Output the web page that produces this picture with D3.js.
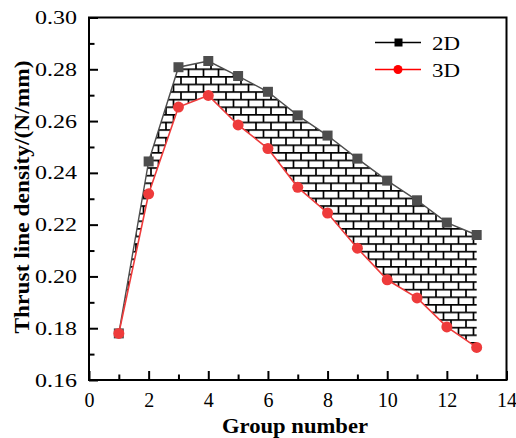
<!DOCTYPE html>
<html>
<head>
<meta charset="utf-8">
<script src="https://cdn.jsdelivr.net/npm/d3@7"></script>
<style>
  body { margin: 0; background: #fff; }
</style>
</head>
<body>
<svg id="chart" width="516" height="438" font-family="'Liberation Serif', 'Times New Roman', Times, serif"></svg>
<script>
const groups = [1, 2, 3, 4, 5, 6, 7, 8, 9, 10, 11, 12, 13]
const density2D = [0.178, 0.2444, 0.2808, 0.2832, 0.2774, 0.2713, 0.2622, 0.2544, 0.2455, 0.2370, 0.2294, 0.2208, 0.2160]
const density3D = [0.178, 0.2319, 0.2654, 0.2699, 0.2585, 0.2494, 0.2344, 0.2245, 0.2109, 0.1987, 0.1917, 0.1805, 0.1726]
const xTicks = [0, 2, 4, 6, 8, 10, 12, 14]
const xMinor = [1, 3, 5, 7, 9, 11, 13]
const yTicks = [0.16, 0.18, 0.20, 0.22, 0.24, 0.26, 0.28, 0.30]
const yMinor = [0.17, 0.19, 0.21, 0.23, 0.25, 0.27, 0.29]

const serif = "'Liberation Serif', 'Times New Roman', Times, serif"
const margin = { top: 17.5, right: 9.5, bottom: 58, left: 89 }
const width = 516
const height = 438

const svg = d3.select('#chart')

const x = d3.scaleLinear().domain([0, 14]).range([margin.left, width - margin.right])
const y = d3.scaleLinear().domain([0.16, 0.30]).range([height - margin.bottom, margin.top])

// the original picture is a bit wider than tall, so text gets stretched to fit
const stretchTo = (sel, len) => sel.each(function () {
  d3.select(this).attr('textLength', len).attr('lengthAdjust', 'spacingAndGlyphs')
})

// brick hatch pattern
const bw = 15, bh = 7.6
const pat = svg.append('defs').append('pattern')
  .attr('id', 'brick')
  .attr('patternUnits', 'userSpaceOnUse')
  .attr('width', bw)
  .attr('height', bh * 2)
pat.append('rect').attr('width', bw).attr('height', bh * 2).attr('fill', '#fff')
pat.append('path')
  .attr('d', `M0,0.8H${bw}M0,${bh + 0.8}H${bw}M1,0.8V${bh + 0.8}M${bw / 2 + 1},${bh + 0.8}V${bh * 2 + 0.8}`)
  .attr('stroke', '#000')
  .attr('stroke-width', 1.7)
  .attr('fill', 'none')

const pts2 = groups.map((g, i) => [g, density2D[i]])
const pts3 = groups.map((g, i) => [g, density3D[i]])

const area = d3.area()
  .x(d => x(d[0]))
  .y0(d => y(d[2]))
  .y1(d => y(d[1]))
svg.append('path')
  .datum(groups.map((g, i) => [g, density2D[i], density3D[i]]))
  .attr('d', area)
  .attr('fill', 'url(#brick)')

const line = d3.line().x(d => x(d[0])).y(d => y(d[1]))

svg.append('path').datum(pts2).attr('d', line)
  .attr('fill', 'none').attr('stroke', '#4d4d4d').attr('stroke-width', 1.4)
svg.append('path').datum(pts3).attr('d', line)
  .attr('fill', 'none').attr('stroke', '#ee3b3b').attr('stroke-width', 1.6)

svg.append('g').selectAll('rect').data(pts2).enter().append('rect')
  .attr('x', d => x(d[0]) - 5)
  .attr('y', d => y(d[1]) - 5)
  .attr('width', 10)
  .attr('height', 10)
  .attr('fill', '#4d4d4d')

svg.append('g').selectAll('circle').data(pts3).enter().append('circle')
  .attr('cx', d => x(d[0]))
  .attr('cy', d => y(d[1]))
  .attr('r', 5.5)
  .attr('fill', '#ee3b3b')

// axes
const xAxis = svg.append('g')
  .attr('transform', `translate(0,${height - margin.bottom})`)
  .call(d3.axisBottom(x).tickValues(xTicks).tickSize(-9).tickPadding(12.5).tickSizeOuter(0))
svg.append('g')
  .attr('transform', `translate(0,${height - margin.bottom})`)
  .call(d3.axisBottom(x).tickValues(xMinor).tickSize(-5.5).tickFormat('').tickSizeOuter(0))

const yAxis = svg.append('g')
  .attr('transform', `translate(${margin.left},0)`)
  .call(d3.axisLeft(y).tickValues(yTicks).tickSize(-9).tickPadding(12).tickFormat(d3.format('.2f')).tickSizeOuter(0))
svg.append('g')
  .attr('transform', `translate(${margin.left},0)`)
  .call(d3.axisLeft(y).tickValues(yMinor).tickSize(-5.5).tickFormat('').tickSizeOuter(0))

svg.selectAll('.domain').remove()
svg.selectAll('g').attr('font-family', serif)
svg.selectAll('.tick line').attr('stroke', '#000').attr('stroke-width', 2)
svg.selectAll('.tick text')
  .attr('fill', '#000')
  .attr('font-size', 20)
yAxis.selectAll('.tick text').attr('font-size', 19).call(stretchTo, 42)

svg.append('rect')
  .attr('x', margin.left)
  .attr('y', margin.top)
  .attr('width', width - margin.right - margin.left)
  .attr('height', height - margin.bottom - margin.top)
  .attr('fill', 'none')
  .attr('stroke', '#000')
  .attr('stroke-width', 2)

// titles
svg.append('text')
  .attr('x', 295)
  .attr('y', 433)
  .attr('text-anchor', 'middle')
  .attr('font-family', serif)
  .attr('font-size', 20)
  .attr('font-weight', 'bold')
  .text('Group number')
  .call(stretchTo, 146)

svg.append('text')
  .attr('transform', 'translate(29,197) rotate(-90)')
  .attr('text-anchor', 'middle')
  .attr('font-family', serif)
  .attr('font-size', 20)
  .attr('font-weight', 'bold')
  .text('Thrust line density/(N/mm)')
  .call(stretchTo, 273)

// legend
const legend = [
  { label: '2D', color: '#000', shape: 'square' },
  { label: '3D', color: '#ff0000', shape: 'circle' }
]
legend.forEach((l, i) => {
  const ly = 42.5 + i * 27
  const g = svg.append('g')
  g.append('line')
    .attr('x1', 375).attr('x2', 421)
    .attr('y1', ly).attr('y2', ly)
    .attr('stroke', l.color).attr('stroke-width', 1.5)
  if (l.shape === 'square') {
    g.append('rect').attr('x', 394.5).attr('y', ly - 4).attr('width', 8).attr('height', 8).attr('fill', l.color)
  } else {
    g.append('circle').attr('cx', 398).attr('cy', ly).attr('r', 4.5).attr('fill', l.color)
  }
  g.append('text')
    .attr('x', 432)
    .attr('y', ly + 7)
    .attr('font-family', serif)
    .attr('font-size', 19)
    .attr('fill', '#000')
    .text(l.label)
    .call(stretchTo, 28)
})
</script>
</body>
</html>
